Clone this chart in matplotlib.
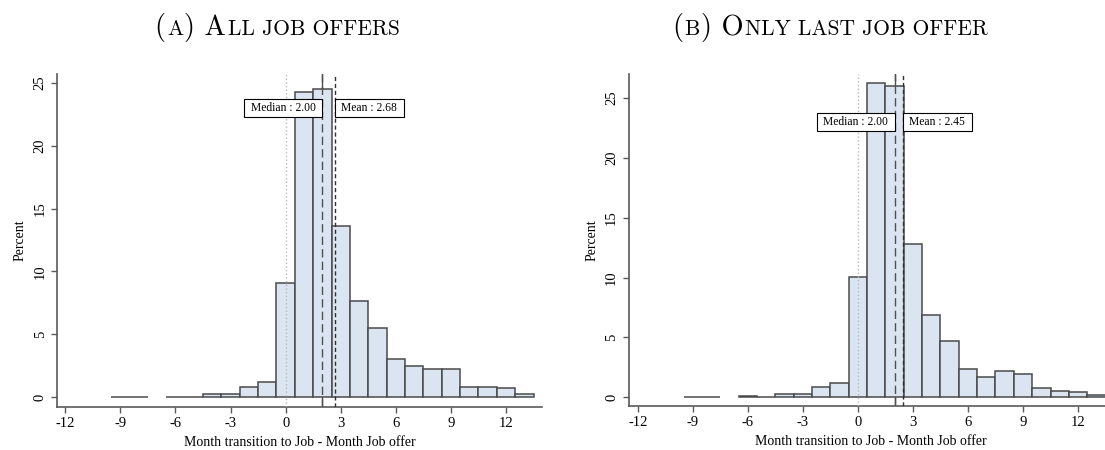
import numpy as np
import matplotlib
matplotlib.use("Agg")
import matplotlib.pyplot as plt
from matplotlib.patches import Rectangle
from matplotlib.transforms import IdentityTransform

# Month transition to Job - Month Job offer (bins of width 1, centred on integers)
months = list(range(-9, 14))

# Percent of offers per month difference
pct_all = [0.05, 0.05, 0.0, 0.05, 0.03, 0.24, 0.29, 0.85, 1.19, 9.11,
           24.23, 24.5, 13.64, 7.68, 5.48, 3.02, 2.46, 2.28, 2.28, 0.85,
           0.78, 0.72, 0.24]
pct_last = [0.05, 0.05, 0.0, 0.08, 0.05, 0.25, 0.25, 0.89, 1.17, 10.08,
            26.25, 26.03, 12.81, 6.88, 4.7, 2.34, 1.67, 2.2, 1.95, 0.75,
            0.56, 0.47, 0.17]

median_all, mean_all = 2.00, 2.68
median_last, mean_last = 2.00, 2.45

xticks = [-12, -9, -6, -3, 0, 3, 6, 9, 12]
yticks = [0, 5, 10, 15, 20, 25]

plt.rcParams["font.family"] = ["Liberation Serif", "DejaVu Serif"]
plt.rcParams["axes.unicode_minus"] = False

W, H = 1105, 450
fig = plt.figure(figsize=(W / 100, H / 100), dpi=100)

FILL = "#dbe5f1"
EDGE = "#4a4a4a"
AXC = "#5a5a5a"


def px_axes(x0, x1, ytop, ybot):
    return fig.add_axes([x0 / W, 1 - ybot / H, (x1 - x0) / W, (ybot - ytop) / H])


def boxed_label(ax, s, xline, y, side, padx=6.5, boxh=18):
    """Text in a white box whose edge touches the vertical line at xline."""
    renderer = fig.canvas.get_renderer()
    sign = -1 if side == "left" else 1
    t = ax.annotate(s, xy=(xline, y), xytext=(sign * padx, 0),
                    textcoords="offset pixels",
                    ha="right" if side == "left" else "left", va="center",
                    fontsize=8.4, zorder=6)
    bb = t.get_window_extent(renderer)
    xd, yd = ax.transData.transform((xline, y))
    if side == "left":
        x0, x1 = bb.x0 - padx, xd
    else:
        x0, x1 = xd, bb.x1 + padx
    rect = Rectangle((x0, yd - boxh / 2), x1 - x0, boxh, transform=IdentityTransform(),
                     fc="white", ec="black", lw=0.8, zorder=5)
    ax.add_patch(rect)


def draw_hist(ax, values, median, mean, xlim, ylim, ylab_x):
    x = np.array(months)
    v = np.array(values)
    keep = v > 0
    ax.bar(x[keep], v[keep], width=1.0, color=FILL, edgecolor=EDGE,
           linewidth=1.1, zorder=2)
    # reference lines
    ax.axvline(median, color="#505050", lw=1.0, zorder=1)
    ax.axvline(median, color="#505050", lw=1.0, dashes=(6, 3), zorder=3)
    ax.axvline(mean, color="#303030", lw=1.0, dashes=(3, 2), zorder=3)
    ax.axvline(0, color="#b8b8b8", lw=1.0, ls=":", zorder=3)

    ax.set_xlim(*xlim)
    ax.set_ylim(*ylim)
    ax.set_xticks(xticks)
    ax.set_yticks(yticks)
    for s in ["top", "right"]:
        ax.spines[s].set_visible(False)
    for s in ["left", "bottom"]:
        ax.spines[s].set_color(AXC)
        ax.spines[s].set_linewidth(1.2)
    ax.tick_params(direction="out", length=4.5, width=1.0, color=AXC,
                   labelsize=10.5, pad=3)
    plt.setp(ax.get_yticklabels(), rotation=90, va="center")
    ax.set_xlabel("Month transition to Job - Month Job offer", fontsize=10, labelpad=4)
    ax.set_ylabel("Percent", fontsize=10)
    ax.yaxis.set_label_coords(ylab_x, 0.5)
    ax.set_facecolor("none")

    boxed_label(ax, f"Median : {median:.2f}", median, 23, "left")
    boxed_label(ax, f"Mean : {mean:.2f}", mean, 23, "right")


ax1 = px_axes(57, 542, 74, 406.7)
draw_hist(ax1, pct_all, median_all, mean_all, (-12.45, 13.96), (-0.75, 25.7), -0.062)

ax2 = px_axes(628.6, 1114, 74, 406)
draw_hist(ax2, pct_last, median_last, mean_last, (-12.5, 13.96), (-0.73, 27.0), -0.062)


def small_caps_title(pieces, cx, base_y):
    renderer = fig.canvas.get_renderer()
    texts = []
    widths = []
    for s, size in pieces:
        t = fig.text(0, 0, s, fontsize=size, family="cmr10", va="baseline", ha="left")
        texts.append(t)
        widths.append(t.get_window_extent(renderer).width)
    gap = 1.5
    total = sum(widths) + gap * (len(widths) - 1)
    x = cx - total / 2
    for t, w in zip(texts, widths):
        t.set_position((x / W, 1 - base_y / H))
        x += w + gap


BIG, SMALL = 20.5, 15.5
small_caps_title([("(", BIG), ("A", SMALL), (") A", BIG), ("LL JOB OFFERS", SMALL)], 277, 35)
small_caps_title([("(", BIG), ("B", SMALL), (") O", BIG), ("NLY LAST JOB OFFER", SMALL)], 830, 35)

fig.savefig("out.png", dpi=100)
